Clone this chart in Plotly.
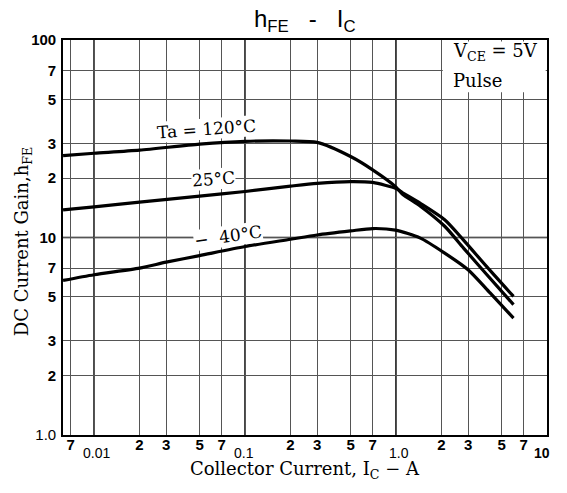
import math
import plotly.graph_objects as go

# ---- data ----
ic_120 = [0.00623, 0.01, 0.02, 0.05, 0.1, 0.2, 0.3, 0.5, 0.7, 1.0, 1.1, 1.45, 2.1, 2.8, 4.0, 6.0]
hfe_120 = [26.0, 26.7, 27.7, 29.7, 30.7, 30.8, 30.3, 25.7, 22.0, 18.0, 16.6, 14.4, 11.4, 8.84, 6.48, 4.57]

ic_25 = [0.00623, 0.01, 0.02, 0.05, 0.1, 0.2, 0.3, 0.5, 0.7, 1.0, 1.1, 1.45, 2.1, 2.8, 4.0, 6.0]
hfe_25 = [13.8, 14.3, 15.1, 16.2, 17.1, 18.2, 18.8, 19.2, 19.0, 17.7, 16.9, 14.9, 12.3, 9.7, 7.1, 5.03]

ic_m40 = [0.00623, 0.01, 0.02, 0.03, 0.05, 0.1, 0.2, 0.3, 0.5, 0.7, 0.99, 1.45, 2.1, 3.0, 4.2, 6.0]
hfe_m40 = [6.06, 6.48, 7.0, 7.5, 8.1, 9.0, 9.8, 10.3, 10.8, 11.1, 10.9, 9.93, 8.34, 6.87, 5.24, 3.91]

x_minor_vals = [0.007, 0.02, 0.03, 0.05, 0.07, 0.2, 0.3, 0.5, 0.7, 2, 3, 5, 7]
x_minor_text = ["7", "2", "3", "5", "7", "2", "3", "5", "7", "2", "3", "5", "7"]
x_decade_vals = [0.01, 0.1, 1.0, 10]
x_decade_text = ["0.01", "0.1", "1.0", "<b>10</b>"]
x_decade_shift = [2, -1, 3, -5]

y_vals = [1, 2, 3, 5, 7, 10, 20, 30, 50, 70, 100]
y_text = ["1.0", "<b>2</b>", "<b>3</b>", "<b>5</b>", "<b>7</b>", "<b>10</b>",
          "<b>2</b>", "<b>3</b>", "<b>5</b>", "<b>7</b>", "<b>100</b>"]

curve_labels = [
    ("Ta = 120°C", 0.0557, 35.6, -4),
    ("25°C", 0.0614, 19.7, -4),
    ("−  40°C", 0.077, 10.2, -8),
]

SERIF = "DejaVu Serif"
SANS = "Liberation Sans"
L = math.log10

fig = go.Figure()
for xs, ys in [(ic_120, hfe_120), (ic_25, hfe_25), (ic_m40, hfe_m40)]:
    fig.add_trace(go.Scatter(x=xs, y=ys, mode="lines",
                             line=dict(color="black", width=3.2, shape="spline", smoothing=0.7),
                             showlegend=False, hoverinfo="skip"))

# decade grid lines (heavier)
for v in x_decade_vals[:-1]:
    fig.add_shape(type="line", xref="x", yref="paper", x0=v, x1=v, y0=0, y1=1,
                  line=dict(color="black", width=1.6), layer="below")
fig.add_shape(type="line", xref="paper", yref="y", x0=0, x1=1, y0=10, y1=10,
              line=dict(color="black", width=1.6), layer="below")

# white box for conditions (covers grid)
fig.add_shape(type="rect", xref="x", yref="paper", x0=2.04, x1=9.8, y0=0.868, y1=0.996,
              fillcolor="white", line=dict(width=0), layer="above")

fig.add_annotation(text="V<sub>CE</sub> = 5V", xref="x", yref="paper", x=L(2.3), y=1.005,
                   xanchor="left", yanchor="top", showarrow=False,
                   font=dict(family=SERIF, size=18, color="black"))
fig.add_annotation(text="Pulse", xref="x", yref="paper", x=L(2.3), y=0.93,
                   xanchor="left", yanchor="top", showarrow=False,
                   font=dict(family=SERIF, size=18, color="black"))

for txt, x, y, ang in curve_labels:
    fig.add_annotation(text=txt, x=L(x), y=L(y), xref="x", yref="y", showarrow=False,
                       textangle=ang, bgcolor="white", borderpad=0,
                       font=dict(family=SERIF, size=17, color="black"))

for v, t, s in zip(x_decade_vals, x_decade_text, x_decade_shift):
    fig.add_annotation(text=t, x=L(v), xref="x", yref="paper", y=-0.045, yanchor="middle",
                       xanchor="center", showarrow=False, xshift=s,
                       font=dict(family=SANS, size=14, color="black"))

fig.add_annotation(text="h<sub>FE</sub>   -   I<sub>C</sub>", xref="paper", yref="paper",
                   x=0.5, y=1.05, showarrow=False, xanchor="center", yanchor="middle",
                   font=dict(family=SANS, size=24, color="black"))
fig.add_annotation(text="DC Current Gain,h<sub>FE</sub>", xref="paper", yref="paper",
                   x=-0.081, y=0.49, textangle=-90, showarrow=False,
                   xanchor="center", yanchor="middle",
                   font=dict(family=SERIF, size=18, color="black"))
fig.add_annotation(text="Collector Current, I<sub>C</sub> − A", xref="paper", yref="paper",
                   x=0.5, y=-0.088, showarrow=False, xanchor="center", yanchor="middle",
                   font=dict(family=SERIF, size=18, color="black"))

fig.update_xaxes(type="log", range=[-2.206, 1.0],
                 tickvals=x_minor_vals + x_decade_vals,
                 ticktext=["<b>%s</b>" % t for t in x_minor_text] + [""] * len(x_decade_vals),
                 showgrid=True, gridcolor="#555", gridwidth=1,
                 showline=True, linecolor="black", linewidth=1.6, mirror=True,
                 ticks="", tickfont=dict(family=SANS, size=15, color="black"),
                 zeroline=False, ticklabelstandoff=-5)
fig.update_yaxes(type="log", range=[0, 2],
                 tickvals=y_vals, ticktext=y_text,
                 showgrid=True, gridcolor="#555", gridwidth=1,
                 showline=True, linecolor="black", linewidth=1.6, mirror=True,
                 ticks="", tickfont=dict(family=SANS, size=15, color="black"),
                 zeroline=False, ticklabelstandoff=2)

# page body has an 8px margin: shrink the figure so the plot sits where the reference has it
fig.update_layout(width=559, height=485, margin=dict(l=55, r=20, t=32, b=58),
                  plot_bgcolor="white", paper_bgcolor="white", showlegend=False)

fig.write_html("out.html")
